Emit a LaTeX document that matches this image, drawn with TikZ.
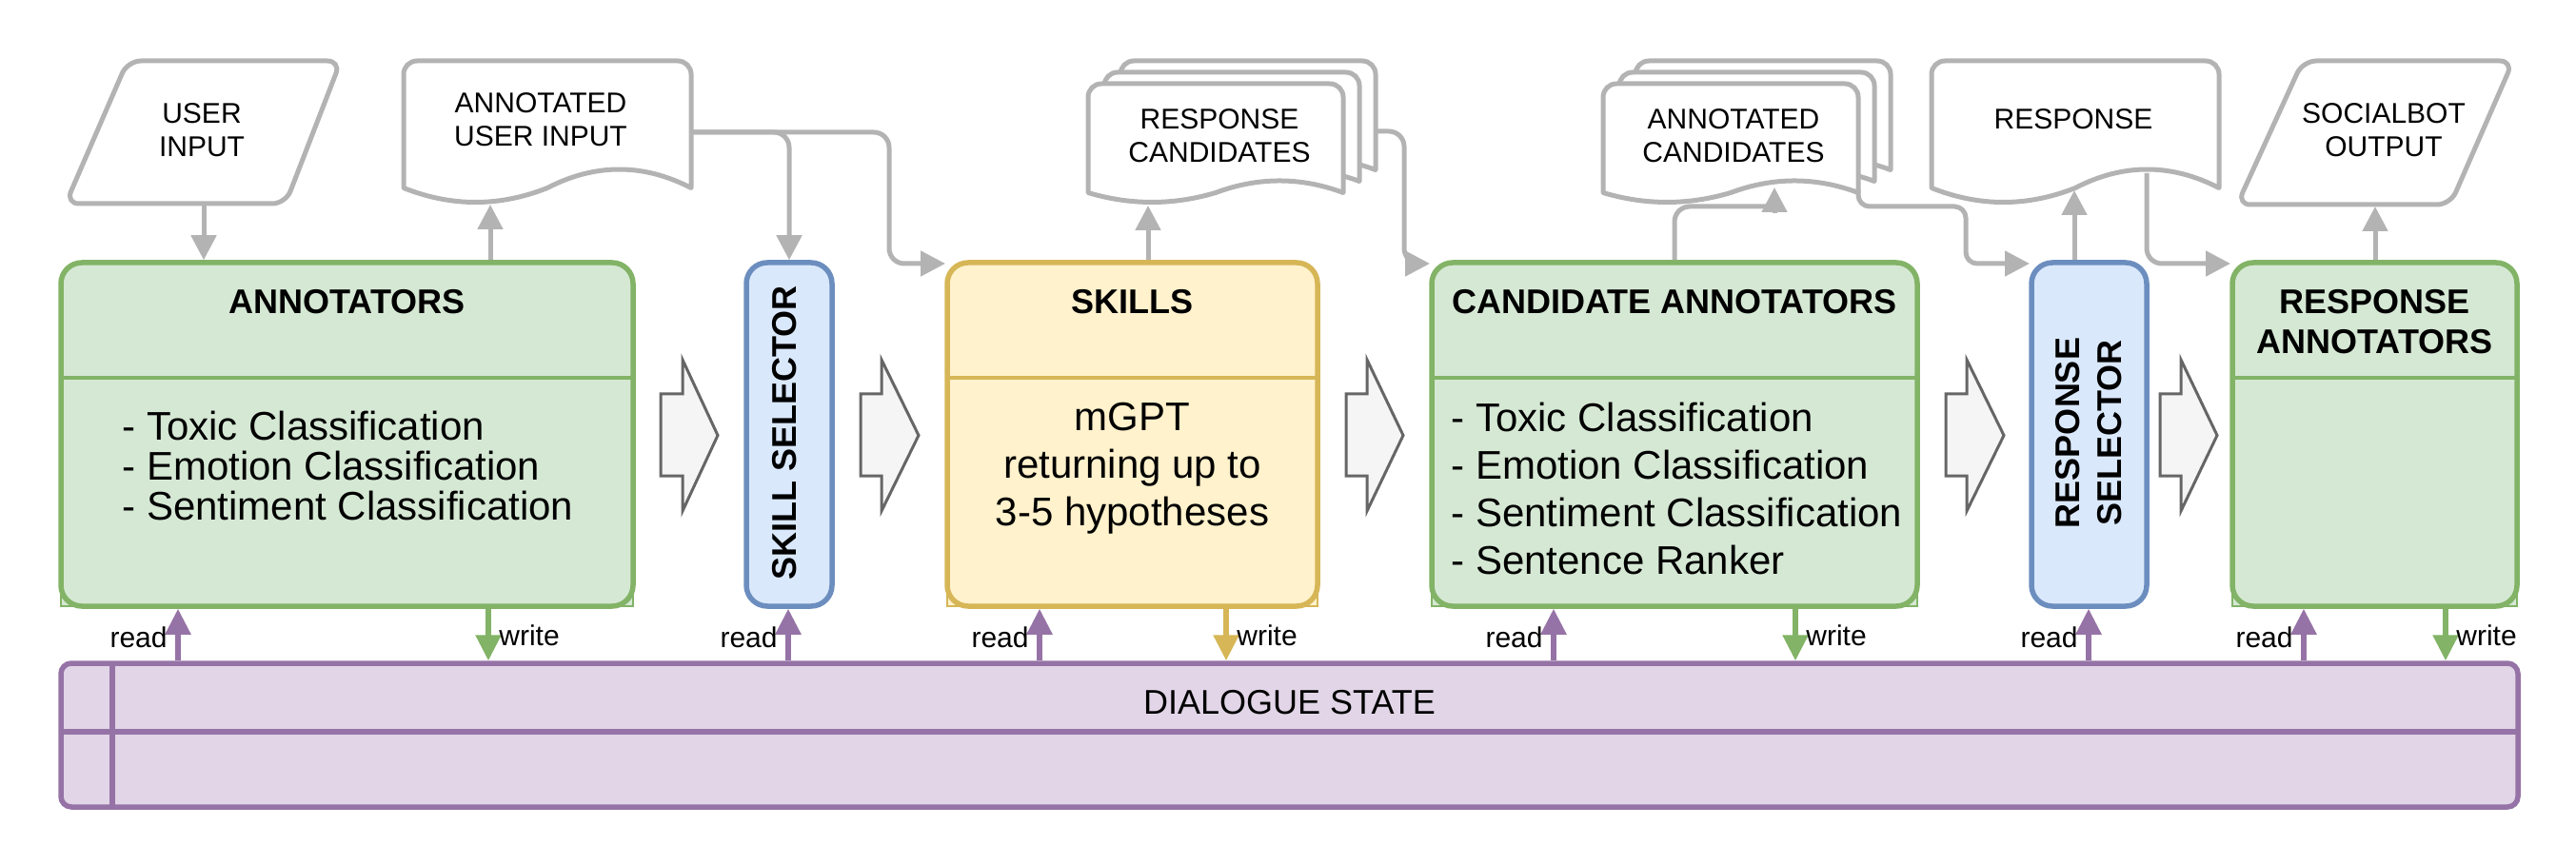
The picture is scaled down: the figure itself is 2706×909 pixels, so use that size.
\documentclass[tikz,border=0pt]{standalone}
\usepackage{fontspec}
\setmainfont{Liberation Sans}
\usetikzlibrary{arrows.meta}
\definecolor{gfill}{HTML}{D5E8D4}
\definecolor{gline}{HTML}{82B366}
\definecolor{bfill}{HTML}{DAE8FC}
\definecolor{bline}{HTML}{6C8EBF}
\definecolor{yfill}{HTML}{FFF2CC}
\definecolor{yline}{HTML}{D6B656}
\definecolor{pfill}{HTML}{E1D5E7}
\definecolor{pline}{HTML}{9673A6}
\definecolor{conn}{HTML}{B3B3B3}
\definecolor{afill}{HTML}{F5F5F5}
\definecolor{aline}{HTML}{666666}
\tikzset{
 boxbase/.style={draw, line width=2.75pt, rounded corners=11pt, inner sep=0pt},
 gbox/.style={boxbase, draw=gline, fill=gfill},
 bbox/.style={boxbase, draw=bline, fill=bfill},
 ybox/.style={boxbase, draw=yline, fill=yfill},
 lowpart/.style={line width=0.8pt},
 divider/.style={line width=2pt},
 docst/.style={draw=conn, fill=white, line width=2.5pt, line join=round},
 conline/.style={draw=conn, line width=2.5pt},
 conarrow/.style={conline, -{Triangle[length=13pt,width=13pt]}},
 rdarrow/.style={draw=pline, line width=2.75pt, -{Triangle[length=13.5pt,width=13pt]}},
 wrarrow/.style={line width=2.75pt, -{Triangle[length=13.5pt,width=13pt]}},
 blockarr/.style={draw=aline, fill=afill, line width=1.5pt, line join=miter},
 doclbl/.style={align=center, inner sep=0pt, font=\fontsize{15}{17.5}\selectfont},
 ttl/.style={align=center, inner sep=0pt, font=\fontsize{18}{21}\selectfont\bfseries},
 rwlbl/.style={inner sep=0pt, font=\fontsize{15}{17}\selectfont},
 listtxt/.style={inner sep=0pt, font=\fontsize{21}{25}\selectfont},
}
\newcommand\blkarrow[3]{\draw[blockarr] (#1,414) -- (#2,414) -- (#2,378) -- (#3,457.5) -- (#2,537) -- (#2,500) -- (#1,500) -- cycle;}
\newcommand\docshp[6]{%
\draw[docst] (#1,#4) -- (#1,{#2+14}) arc[start angle=180,end angle=270,radius=14]
 -- ({#1+#3-14},#2) arc[start angle=270,end angle=360,radius=14]
 -- ({#1+#3},#4) .. controls ({#1+5*#3/6},{#4-#5}) and ({#1+2*#3/3},{#4-#5}) .. ({#1+#3/2},#4)
 .. controls ({#1+#3/3},{#4+#6}) and ({#1+#3/6},{#4+#6}) .. (#1,#4) -- cycle;}
\begin{document}
\begin{tikzpicture}[x=0.5pt,y=-0.5pt]
\useasboundingbox (0,0) rectangle (2706,909);
% block arrows
\blkarrow{694}{717}{754}
\blkarrow{904}{926}{965}
\blkarrow{1414}{1436}{1474}
\blkarrow{2044}{2066}{2105}
\blkarrow{2269}{2291}{2329}
% lower parts (square corners)
\draw[lowpart, draw=gline, fill=gfill] (64,397) rectangle (665,637);
\draw[lowpart, draw=yline, fill=yfill] (995,397) rectangle (1384,637);
\draw[lowpart, draw=gline, fill=gfill] (1504,397) rectangle (2014,637);
\draw[lowpart, draw=gline, fill=gfill] (2345,397) rectangle (2644,637);
% boxes
\node[gbox, minimum width=300.5pt, minimum height=180.5pt] (ann) at (364.5,456.5) {};
\node[bbox, minimum width=45pt, minimum height=180.5pt] (ss) at (829,456.5) {};
\node[ybox, minimum width=194.5pt, minimum height=180.5pt] (sk) at (1189.5,456.5) {};
\node[gbox, minimum width=255pt, minimum height=180.5pt] (ca) at (1759,456.5) {};
\node[bbox, minimum width=60.5pt, minimum height=180.5pt] (rs) at (2194.5,456.5) {};
\node[gbox, minimum width=149.5pt, minimum height=180.5pt] (ra) at (2494.5,456.5) {};
\draw[divider, gline] (64,397) -- (665,397);
\draw[divider, yline] (995,397) -- (1384,397);
\draw[divider, gline] (1504,397) -- (2014,397);
\draw[divider, gline] (2345,397) -- (2644,397);
% dialogue state
\node[draw=pline, fill=pfill, line width=2.75pt, rounded corners=5.5pt, inner sep=0pt, minimum width=1290.5pt, minimum height=75.5pt] (ds) at (1354.5,772.5) {};
\draw[pline, line width=2.75pt] (64,769) -- (2645,769);
\draw[pline, line width=2.75pt] (118,697) -- (118,848);
% input/output shapes
\draw[docst, rounded corners=7pt] (134,64) -- (358,64) -- (300,214) -- (69,214) -- cycle;
\draw[docst, rounded corners=7pt] (2419,64) -- (2640,64) -- (2574,215) -- (2350,215) -- cycle;
\docshp{424}{64}{302}{197.5}{26}{20}
\docshp{2029}{64}{302}{197.5}{26}{20}
\docshp{1177}{64}{268}{178.5}{16.7}{13.3}
\docshp{1160}{76}{268}{190.5}{16.7}{13.3}
\docshp{1143}{88}{268}{202.5}{16.7}{13.3}
\docshp{1718}{64}{268}{178.5}{16.7}{13.3}
\docshp{1701}{76}{268}{190.5}{16.7}{13.3}
\docshp{1684}{88}{268}{202.5}{16.7}{13.3}
% connectors
\coordinate (uiB) at (214,214);
\draw[conarrow] (uiB) -- (uiB |- ann.north);
\coordinate (d1B) at (515,215);
\draw[conarrow] (d1B |- ann.north) -- (d1B);
\coordinate (d1R) at (726,139);
\draw[conarrow, rounded corners=8pt] (d1R) -| (ss.north);
\coordinate (skTL) at (993,277);
\draw[conarrow, rounded corners=8pt] (d1R) -- (934,139) -- (934,277) -- (skTL);
\coordinate (rcB) at (1206,216);
\draw[conarrow] (rcB |- sk.north) -- (rcB);
\coordinate (rcR) at (1445,138);
\coordinate (caTL) at (1502,277);
\draw[conarrow, rounded corners=8pt] (rcR) -- (1475,138) -- (1475,277) -- (caTL);
\coordinate (acB) at (1864,197);
\draw[conline, rounded corners=8pt] (ca.north) -- (1759,217) -- (1862,217);
\draw[conarrow] (1864,224) -- (acB);
\coordinate (acR) at (1952,200);
\coordinate (rsTL) at (2132,277);
\draw[conarrow, rounded corners=6pt] (acR) -- (1952,217) -- (2065,217) -- (2065,277) -- (rsTL);
\coordinate (rdB) at (2179,200);
\draw[conarrow] (rdB |- rs.north) -- (rdB);
\coordinate (rdS) at (2255,182);
\coordinate (raTL) at (2343,277);
\draw[conarrow, rounded corners=8pt] (rdS) |- (raTL);
\coordinate (soB) at (2495,217);
\draw[conarrow] (soB |- ra.north) -- (soB);
% read / write
\foreach \rx/\bx in {187/ann, 828/ss, 1092/sk, 1632/ca, 2194/rs, 2420/ra}{
  \coordinate (rd\bx) at (\rx,697);
  \draw[rdarrow] (rd\bx |- ds.north) -- (rd\bx |- \bx.south);
  \node[rwlbl, anchor=base east] (rl\bx) at ({\rx-11},680) {read};
}
\foreach \wx/\bx/\wc in {513/ann/gline, 1288/sk/yline, 1886/ca/gline, 2569/ra/gline}{
  \coordinate (wr\bx) at (\wx,637);
  \draw[wrarrow, \wc] (wr\bx |- \bx.south) -- (wr\bx |- ds.north);
  \node[rwlbl, anchor=base west] (wl\bx) at ({\wx+11},678) {write};
}
% texts
\node[doclbl] (tui) at (212,136.5) {USER\\INPUT};
\node[doclbl] (taui) at (568,125.5) {ANNOTATED\\USER INPUT};
\node[doclbl] (trc) at (1281,143) {RESPONSE\\CANDIDATES};
\node[doclbl] (tac) at (1821,143) {ANNOTATED\\CANDIDATES};
\node[doclbl] (trsp) at (2178,125) {RESPONSE};
\node[doclbl] (tso) at (2504,136.5) {SOCIALBOT\\OUTPUT};
\node[ttl] (tann) at (364.5,317) {ANNOTATORS};
\node[ttl] (tsk) at (1189.5,317) {SKILLS};
\node[ttl] (tca) at (1759,317) {CANDIDATE ANNOTATORS};
\node[ttl] (tra) at (2494.5,338) {RESPONSE\\ANNOTATORS};
\node[ttl, rotate=90] (tss) at (824,455) {SKILL SELECTOR};
\node[ttl, rotate=90, font=\fontsize{18}{22}\selectfont\bfseries] (trs) at (2194.5,455) {RESPONSE\\SELECTOR};
\node[listtxt, align=left, anchor=north west, font=\fontsize{21}{21}\selectfont] (lann) at (128,431.5) {- Toxic Classification\\- Emotion Classification\\- Sentiment Classification};
\node[listtxt, align=left, anchor=north west] (lca) at (1524,422.5) {- Toxic Classification\\- Emotion Classification\\- Sentiment Classification\\- Sentence Ranker};
\node[listtxt, align=center, anchor=north] (lsk) at (1189.5,422.5) {mGPT\\returning up to\\3-5 hypotheses};
\node[anchor=base, inner sep=0pt, font=\fontsize{18}{21}\selectfont] (tds) at (1354.5,750) {DIALOGUE STATE};
\end{tikzpicture}
\end{document}
